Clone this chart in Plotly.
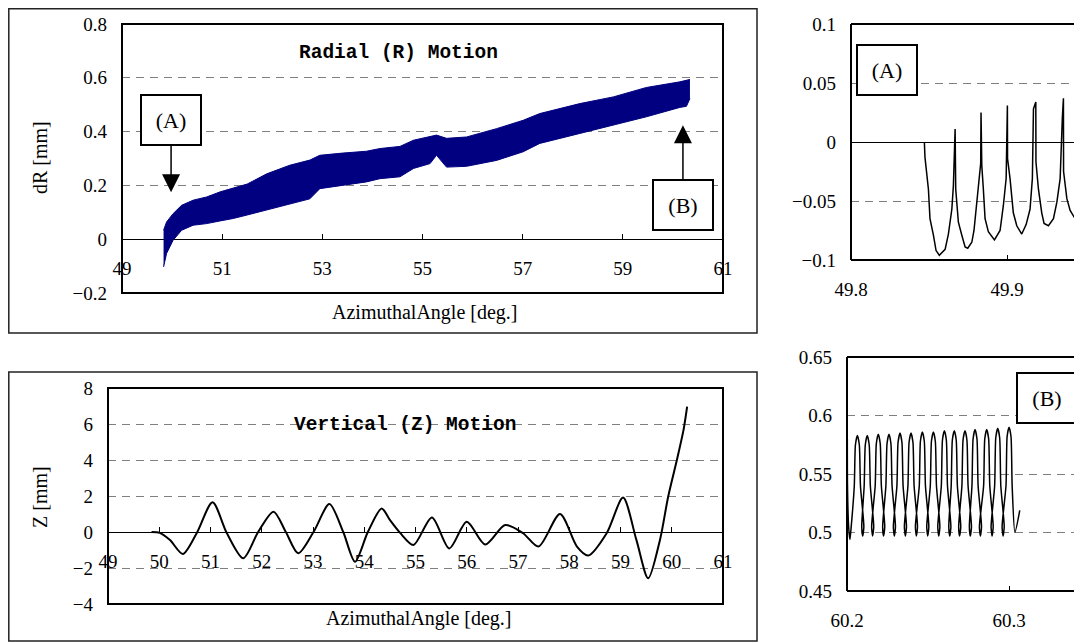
import plotly.graph_objects as go

# window size and the page's default body margin (the figure starts at 8,8)
WIN_W, WIN_H = 1082, 643
OFF = 8
W, H = WIN_W - OFF, WIN_H - OFF

# ---------------- data ----------------
# Radial motion band (envelope of the fast oscillation)
r_angle = [49.83, 49.89, 50.02, 50.19, 50.42, 50.69, 50.96, 51.22, 51.50, 51.89, 52.35,
           52.75, 52.95, 53.40, 53.88, 54.15, 54.55, 54.82, 55.15, 55.28, 55.48, 55.88,
           56.48, 57.01, 57.34, 58.14, 58.81, 59.47, 60.14, 60.27, 60.34]
r_upper = [0.033, 0.064, 0.095, 0.126, 0.145, 0.157, 0.176, 0.190, 0.205, 0.243, 0.275,
           0.294, 0.312, 0.320, 0.327, 0.337, 0.345, 0.368, 0.380, 0.387, 0.375, 0.380,
           0.411, 0.442, 0.467, 0.504, 0.529, 0.564, 0.585, 0.592, 0.594]
r_lower = [-0.103, -0.053, -0.004, 0.033, 0.052, 0.058, 0.068, 0.077, 0.090, 0.108, 0.130,
           0.150, 0.188, 0.200, 0.213, 0.225, 0.232, 0.263, 0.281, 0.312, 0.268, 0.271,
           0.293, 0.325, 0.356, 0.393, 0.424, 0.455, 0.490, 0.494, 0.523]

# Vertical motion
z_angle = [49.85, 50.01, 50.21, 50.46, 50.73, 51.04, 51.32, 51.64, 51.93, 52.23, 52.47,
           52.71, 53.01, 53.32, 53.59, 53.82, 54.07, 54.34, 54.50, 54.70, 54.96, 55.32,
           55.66, 56.00, 56.36, 56.75, 57.10, 57.40, 57.82, 58.15, 58.37, 58.73, 59.05,
           59.31, 59.54, 59.77, 59.93, 60.10, 60.23, 60.30]
z_value = [0.00, -0.05, -0.45, -1.22, -0.07, 1.65, -0.07, -1.46, 0.00, 1.13, 0.00,
           -1.18, 0.00, 1.55, 0.00, -1.65, 0.00, 1.31, 0.67, -0.05, -0.72, 0.81,
           -0.91, 0.57, -0.69, 0.39, -0.07, -0.81, 1.00, -0.81, -1.31, -0.07, 1.91,
           -0.44, -2.57, -0.44, 1.96, 4.00, 5.67, 6.96]

# Detail (A): start of the cut
a_angle = [49.8470, 49.8474, 49.8496, 49.8506, 49.8528, 49.8545, 49.8566, 49.8603, 49.8624, 49.8646, 49.8656, 49.8667,
           49.8671, 49.8688, 49.8710, 49.8731, 49.8748, 49.8774, 49.8788, 49.8810, 49.8822, 49.8831, 49.8833,
           49.8838, 49.8848, 49.8859, 49.8880, 49.8919, 49.8955, 49.8976, 49.8994, 49.9002,
           49.9003, 49.9019, 49.9040, 49.9062, 49.9094, 49.9122, 49.9147, 49.9162, 49.9169, 49.9184,
           49.9185, 49.9201, 49.9222, 49.9237, 49.9265, 49.9297, 49.9319, 49.9340, 49.9354, 49.9361,
           49.9362, 49.9383, 49.9404, 49.9436, 49.9468, 49.9481]
a_value = [0.000, -0.013, -0.040, -0.065, -0.079, -0.092, -0.096, -0.091, -0.078, -0.057, -0.037, 0.011,
           -0.040, -0.068, -0.079, -0.089, -0.090, -0.085, -0.075, -0.048, -0.031, -0.018, 0.025,
           -0.020, -0.040, -0.065, -0.076, -0.083, -0.075, -0.054, -0.031, 0.031,
           -0.014, -0.031, -0.060, -0.071, -0.078, -0.070, -0.057, -0.031, 0.028, 0.034,
           -0.017, -0.040, -0.060, -0.069, -0.071, -0.065, -0.051, -0.031, 0.020, 0.037,
           -0.025, -0.048, -0.058, -0.065, -0.060, -0.055]

# Detail (B): end of the cut
b_angle = [60.2002, 60.2003, 60.2010, 60.2018, 60.2026, 60.2045, 60.2052,
           60.2064, 60.2076, 60.2083, 60.2104, 60.2097, 60.2091, 60.2106, 60.2113,
           60.2125, 60.2137, 60.2144, 60.2165, 60.2158, 60.2152, 60.2174, 60.2181,
           60.2193, 60.2205, 60.2212, 60.2233, 60.2226, 60.2220, 60.2240, 60.2247,
           60.2259, 60.2271, 60.2278, 60.2299, 60.2292, 60.2286, 60.2308, 60.2315,
           60.2327, 60.2339, 60.2346, 60.2367, 60.2360, 60.2354, 60.2376, 60.2383,
           60.2395, 60.2407, 60.2414, 60.2435, 60.2428, 60.2422, 60.2446, 60.2453,
           60.2465, 60.2477, 60.2484, 60.2505, 60.2498, 60.2492, 60.2514, 60.2521,
           60.2533, 60.2545, 60.2552, 60.2573, 60.2566, 60.2560, 60.2582, 60.2589,
           60.2601, 60.2613, 60.2620, 60.2641, 60.2634, 60.2628, 60.2643, 60.2650,
           60.2662, 60.2674, 60.2681, 60.2702, 60.2695, 60.2689, 60.2709, 60.2716,
           60.2728, 60.2740, 60.2747, 60.2768, 60.2761, 60.2755, 60.2771, 60.2778,
           60.2790, 60.2802, 60.2809, 60.2830, 60.2823, 60.2817, 60.2843, 60.2850,
           60.2862, 60.2874, 60.2881, 60.2902, 60.2895, 60.2889, 60.2911, 60.2918,
           60.2930, 60.2942, 60.2949, 60.2970, 60.2963, 60.2957, 60.2981, 60.2988,
           60.3000, 60.3012, 60.3019, 60.3036, 60.3066]
b_value = [0.580, 0.540, 0.505, 0.494, 0.505, 0.540, 0.575,
           0.583, 0.575, 0.540, 0.505, 0.497, 0.505, 0.540, 0.575,
           0.583, 0.575, 0.540, 0.505, 0.497, 0.505, 0.540, 0.576,
           0.584, 0.576, 0.540, 0.505, 0.497, 0.505, 0.540, 0.576,
           0.584, 0.576, 0.540, 0.505, 0.497, 0.505, 0.540, 0.577,
           0.585, 0.577, 0.540, 0.505, 0.497, 0.505, 0.540, 0.577,
           0.585, 0.577, 0.540, 0.505, 0.497, 0.505, 0.540, 0.578,
           0.586, 0.578, 0.540, 0.505, 0.497, 0.505, 0.540, 0.578,
           0.586, 0.578, 0.540, 0.505, 0.497, 0.505, 0.540, 0.579,
           0.587, 0.579, 0.540, 0.505, 0.497, 0.505, 0.540, 0.579,
           0.587, 0.579, 0.540, 0.505, 0.497, 0.505, 0.540, 0.579,
           0.587, 0.579, 0.540, 0.505, 0.497, 0.505, 0.540, 0.580,
           0.588, 0.580, 0.540, 0.505, 0.497, 0.505, 0.540, 0.580,
           0.588, 0.580, 0.540, 0.505, 0.497, 0.505, 0.540, 0.581,
           0.589, 0.581, 0.540, 0.505, 0.497, 0.505, 0.540, 0.582,
           0.590, 0.582, 0.540, 0.500, 0.519]

title_r = "Radial (R) Motion"
title_z = "Vertical (Z) Motion"
x_title = "AzimuthalAngle [deg.]"
r_ytitle = "dR [mm]"
z_ytitle = "Z [mm]"

# ---------------- layout helpers (window pixels -> paper fractions) ----------------
def px(x):
    return (x - OFF) / W

def py(y):
    return (H - (y - OFF)) / H

def dx(p0, p1):
    return [px(p0), min(px(p1), 1.0)]

def dy(top, bottom):
    return [py(bottom), py(top)]

SERIF = "Liberation Serif"
MONO = "Liberation Mono"
tickfont = dict(family=SERIF, size=19, color="black")
grid = dict(showgrid=True, gridcolor="#7f7f7f", gridwidth=1, griddash="8px,6px")

d1x, d1y = dx(122, 723), dy(24, 293)
d2x, d2y = dx(108, 723), dy(388, 604)
d3x, d3y = dx(851, WIN_W), dy(24, 260)
d4x, d4y = dx(847, WIN_W), dy(357, 591)

r_rng, z_rng = [-0.2, 0.8], [-4, 8]
pos1 = d1y[0] + (0 - r_rng[0]) / (r_rng[1] - r_rng[0]) * (d1y[1] - d1y[0])
pos2 = d2y[0] + (0 - z_rng[0]) / (z_rng[1] - z_rng[0]) * (d2y[1] - d2y[0])

fig = go.Figure()
navy = "#000080"
fig.add_trace(go.Scatter(x=r_angle, y=r_lower, mode="lines", line=dict(color=navy, width=1),
                         xaxis="x", yaxis="y", showlegend=False, hoverinfo="skip"))
fig.add_trace(go.Scatter(x=r_angle, y=r_upper, mode="lines", line=dict(color=navy, width=1),
                         fill="tonexty", fillcolor=navy,
                         xaxis="x", yaxis="y", showlegend=False, hoverinfo="skip"))
fig.add_trace(go.Scatter(x=z_angle, y=z_value, mode="lines",
                         line=dict(color="black", width=2, shape="spline", smoothing=0.8),
                         xaxis="x2", yaxis="y2", showlegend=False))
fig.add_trace(go.Scatter(x=a_angle, y=a_value, mode="lines",
                         line=dict(color="black", width=1.5),
                         xaxis="x3", yaxis="y3", showlegend=False))
fig.add_trace(go.Scatter(x=b_angle, y=b_value, mode="lines",
                         line=dict(color="black", width=1.5, shape="spline", smoothing=0.6),
                         xaxis="x4", yaxis="y4", showlegend=False))

xcommon = dict(showgrid=False, zeroline=False, showline=False, ticks="inside", ticklen=5,
               tickwidth=1, tickcolor="black", tickfont=tickfont, ticklabelstandoff=16,
               automargin=False)
ycommon = dict(ticks="", tickfont=tickfont, showline=False, ticklabelstandoff=14,
               automargin=False, **grid)

fig.update_layout(
    template="none",
    width=W, height=H, autosize=False,
    margin=dict(l=0, r=0, t=0, b=0, pad=0, autoexpand=False),
    paper_bgcolor="white", plot_bgcolor="white",
    showlegend=False,
    xaxis=dict(domain=d1x, range=[49, 61], anchor="free", position=pos1, tick0=49, dtick=2, **xcommon),
    yaxis=dict(domain=d1y, range=r_rng, anchor="x", tick0=0, dtick=0.2,
               zeroline=True, zerolinecolor="black", zerolinewidth=1, **ycommon),
    xaxis2=dict(domain=d2x, range=[49, 61], anchor="free", position=pos2, tick0=49, dtick=1, **xcommon),
    yaxis2=dict(domain=d2y, range=z_rng, anchor="x2", tick0=0, dtick=2,
                zeroline=True, zerolinecolor="black", zerolinewidth=1, **ycommon),
    xaxis3=dict(domain=d3x, range=[49.8, 49.948], anchor="y3", tick0=49.8, dtick=0.1, **xcommon),
    yaxis3=dict(domain=d3y, range=[-0.1, 0.1], anchor="x3", tick0=0, dtick=0.05,
                zeroline=True, zerolinecolor="black", zerolinewidth=1, **ycommon),
    xaxis4=dict(domain=d4x, range=[60.2, 60.345], anchor="y4", tick0=60.2, dtick=0.1, **xcommon),
    yaxis4=dict(domain=d4y, range=[0.45, 0.65], anchor="x4", tick0=0.45, dtick=0.05,
                zeroline=False, **ycommon),
)

shapes = []
# outer chart borders (left panels)
for top, bottom in [(8.8, 333), (372, 641)]:
    shapes.append(dict(type="rect", xref="paper", yref="paper", x0=px(8.8), x1=px(757),
                       y0=py(bottom), y1=py(top), line=dict(color="#222", width=1.5), layer="above"))
# plot-area boxes
for ax in ["x", "x2"]:
    ya = ax.replace("x", "y")
    shapes.append(dict(type="rect", xref=f"{ax} domain", yref=f"{ya} domain", x0=0, x1=1, y0=0, y1=1,
                       line=dict(color="black", width=2), layer="above"))
for ax in ["x3", "x4"]:
    ya = ax.replace("x", "y")
    for (x0, x1, y0, y1) in [(0, 0, 0, 1), (0, 1.5, 1, 1), (0, 1.5, 0, 0)]:
        shapes.append(dict(type="line", xref=f"{ax} domain", yref=f"{ya} domain",
                           x0=x0, x1=x1, y0=y0, y1=y1, line=dict(color="black", width=2), layer="above"))
fig.update_layout(shapes=shapes)

ctr = dict(xanchor="center", yanchor="middle")
ann = []
ann.append(dict(text=f"<b>{title_r}</b>", xref="paper", yref="paper", x=px(398), y=py(53),
                showarrow=False, font=dict(family=MONO, size=19.5, color="black"), **ctr))
ann.append(dict(text=f"<b>{title_z}</b>", xref="paper", yref="paper", x=px(405), y=py(425),
                showarrow=False, font=dict(family=MONO, size=19.5, color="black"), **ctr))
axfont = dict(family=SERIF, size=20, color="black")
ann.append(dict(text=x_title, xref="paper", yref="paper", x=px(425), y=py(312), showarrow=False,
                font=axfont, **ctr))
ann.append(dict(text=x_title, xref="paper", yref="paper", x=px(419), y=py(618), showarrow=False,
                font=axfont, **ctr))
ann.append(dict(text=r_ytitle, xref="paper", yref="paper", x=px(40), y=py(158), showarrow=False,
                textangle=-90, font=axfont, **ctr))
ann.append(dict(text=z_ytitle, xref="paper", yref="paper", x=px(40), y=py(497), showarrow=False,
                textangle=-90, font=axfont, **ctr))

boxfont = dict(family=SERIF, size=22, color="black")
box = dict(bordercolor="black", borderwidth=2, borderpad=2, bgcolor="white", width=54, height=44,
           font=boxfont)
ann.append(dict(text="(A)", xref="x", yref="y", x=49.98, y=0.175, showarrow=True, ax=0, ay=-72,
                arrowhead=2, arrowsize=2.4, arrowwidth=1.5, arrowcolor="black", **box))
ann.append(dict(text="(B)", xref="x", yref="y", x=60.2, y=0.424, showarrow=True, ax=0, ay=80,
                arrowhead=2, arrowsize=2.4, arrowwidth=1.5, arrowcolor="black", **box))
ann.append(dict(text="(A)", xref="paper", yref="paper", x=px(887), y=py(70), showarrow=False,
                **ctr, **box))
ann.append(dict(text="(B)", xref="paper", yref="paper", x=px(1047), y=py(398), showarrow=False,
                **ctr, **box))
fig.update_layout(annotations=ann)

fig.write_html("out.html")
